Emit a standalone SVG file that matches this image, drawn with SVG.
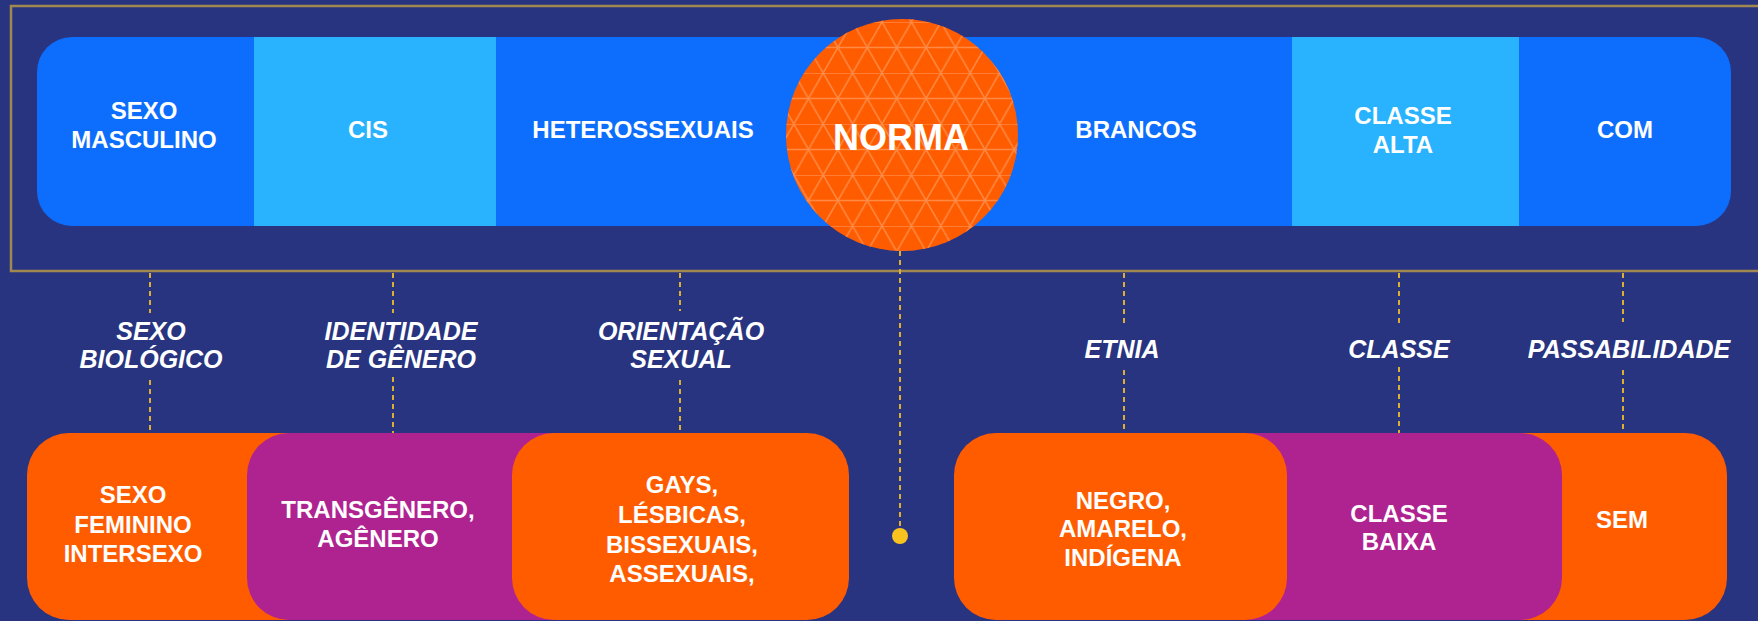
<svg xmlns="http://www.w3.org/2000/svg" width="1758" height="621" viewBox="0 0 1758 621">
<style>
.bg{fill:#283480}
.blue{fill:#0d6efd}
.light{fill:#29b3fe}
.orange{fill:#ff5c00}
.purple{fill:#af2391}
.t{font-family:"Liberation Sans",Arial,sans-serif;font-weight:bold;fill:#ffffff;text-anchor:middle;font-size:24px}
.lab{font-family:"Liberation Sans",Arial,sans-serif;font-weight:bold;font-style:italic;fill:#ffffff;text-anchor:middle;font-size:25px}
.dash{stroke:#dcae32;stroke-width:2;stroke-dasharray:5 4;fill:none}
</style>
<defs>
<pattern id="tri" patternUnits="userSpaceOnUse" width="29.4" height="51" x="0" y="22">
<g stroke="#ff8a45" stroke-width="1.5" fill="none">
<line x1="0" y1="0" x2="29.4" y2="0"/>
<line x1="0" y1="25.5" x2="29.4" y2="25.5"/>
<line x1="0" y1="0" x2="29.4" y2="51"/>
<line x1="29.4" y1="0" x2="0" y2="51"/>
</g>
</pattern>
</defs>
<rect class="bg" x="0" y="0" width="1758" height="621"/>
<rect x="11" y="6" width="1770" height="265" fill="none" stroke="#a08850" stroke-width="2.5"/>

<g id="connectors">
<line class="dash" x1="150" y1="273" x2="150" y2="313"/>
<line class="dash" x1="150" y1="380" x2="150" y2="432"/>
<line class="dash" x1="393" y1="273" x2="393" y2="313"/>
<line class="dash" x1="393" y1="377" x2="393" y2="438"/>
<line class="dash" x1="680" y1="273" x2="680" y2="311"/>
<line class="dash" x1="680" y1="380" x2="680" y2="432"/>
<line class="dash" x1="900" y1="251" x2="900" y2="532"/>
<circle cx="900" cy="536" r="8" fill="#f9c31f"/>
<line class="dash" x1="1124" y1="273" x2="1124" y2="324"/>
<line class="dash" x1="1124" y1="370" x2="1124" y2="432"/>
<line class="dash" x1="1399" y1="273" x2="1399" y2="324"/>
<line class="dash" x1="1399" y1="367" x2="1399" y2="434"/>
<line class="dash" x1="1623" y1="273" x2="1623" y2="322"/>
<line class="dash" x1="1623" y1="370" x2="1623" y2="433"/>
</g>

<g id="sexo-masculino">
<path class="blue" d="M256,37 H72 A35,35 0 0 0 37,72 V191 A35,35 0 0 0 72,226 H256 Z"/>
<text class="t" x="144" y="119">SEXO</text>
<text class="t" x="144" y="148">MASCULINO</text>
</g>
<g id="cis">
<rect class="light" x="254" y="37" width="243" height="189"/>
<text class="t" x="368" y="138">CIS</text>
</g>
<g id="heterossexuais">
<rect class="blue" x="496" y="37" width="410" height="189"/>
<text class="t" x="643" y="138">HETEROSSEXUAIS</text>
</g>
<g id="brancos">
<rect class="blue" x="900" y="37" width="393" height="189"/>
<text class="t" x="1136" y="138">BRANCOS</text>
</g>
<g id="classe-alta">
<rect class="light" x="1292" y="37" width="228" height="189"/>
<text class="t" x="1403" y="124">CLASSE</text>
<text class="t" x="1403" y="153">ALTA</text>
</g>
<g id="com">
<path class="blue" d="M1519,37 H1696 A35,35 0 0 1 1731,72 V191 A35,35 0 0 1 1696,226 H1519 Z"/>
<text class="t" x="1625" y="138">COM</text>
</g>
<g id="norma">
<circle cx="902" cy="135" r="116" fill="#ff5c00"/>
<circle cx="902" cy="135" r="116" fill="url(#tri)"/>
<text class="t" x="901" y="150" style="font-size:36px">NORMA</text>
</g>

<g id="sexo-biologico">
<text class="lab" x="151" y="340">SEXO</text>
<text class="lab" x="151" y="368">BIOLÓGICO</text>
</g>
<g id="identidade-genero">
<text class="lab" x="401" y="340">IDENTIDADE</text>
<text class="lab" x="401" y="368">DE GÊNERO</text>
</g>
<g id="orientacao-sexual">
<text class="lab" x="681" y="340">ORIENTAÇÃO</text>
<text class="lab" x="681" y="368">SEXUAL</text>
</g>
<g id="etnia"><text class="lab" x="1122" y="358">ETNIA</text></g>
<g id="classe"><text class="lab" x="1399" y="358">CLASSE</text></g>
<g id="passabilidade"><text class="lab" x="1629" y="358">PASSABILIDADE</text></g>

<g id="sexo-feminino">
<rect class="orange" x="27" y="433" width="340" height="187" rx="42"/>
<text class="t" x="133" y="503">SEXO</text>
<text class="t" x="133" y="533">FEMININO</text>
<text class="t" x="133" y="562">INTERSEXO</text>
</g>
<g id="transgenero">
<rect class="purple" x="247" y="433" width="360" height="187" rx="42"/>
<text class="t" x="378" y="518">TRANSGÊNERO,</text>
<text class="t" x="378" y="547">AGÊNERO</text>
</g>
<g id="gays">
<rect class="orange" x="512" y="433" width="337" height="187" rx="42"/>
<text class="t" x="682" y="493">GAYS,</text>
<text class="t" x="682" y="523">LÉSBICAS,</text>
<text class="t" x="682" y="553">BISSEXUAIS,</text>
<text class="t" x="682" y="582">ASSEXUAIS,</text>
</g>
<g id="sem">
<rect class="orange" x="1460" y="433" width="267" height="187" rx="42"/>
<text class="t" x="1622" y="528">SEM</text>
</g>
<g id="classe-baixa">
<rect class="purple" x="1180" y="433" width="382" height="187" rx="42"/>
<text class="t" x="1399" y="522">CLASSE</text>
<text class="t" x="1399" y="550">BAIXA</text>
</g>
<g id="negro">
<rect class="orange" x="954" y="433" width="333" height="187" rx="42"/>
<text class="t" x="1123" y="509">NEGRO,</text>
<text class="t" x="1123" y="537">AMARELO,</text>
<text class="t" x="1123" y="566">INDÍGENA</text>
</g>
</svg>
